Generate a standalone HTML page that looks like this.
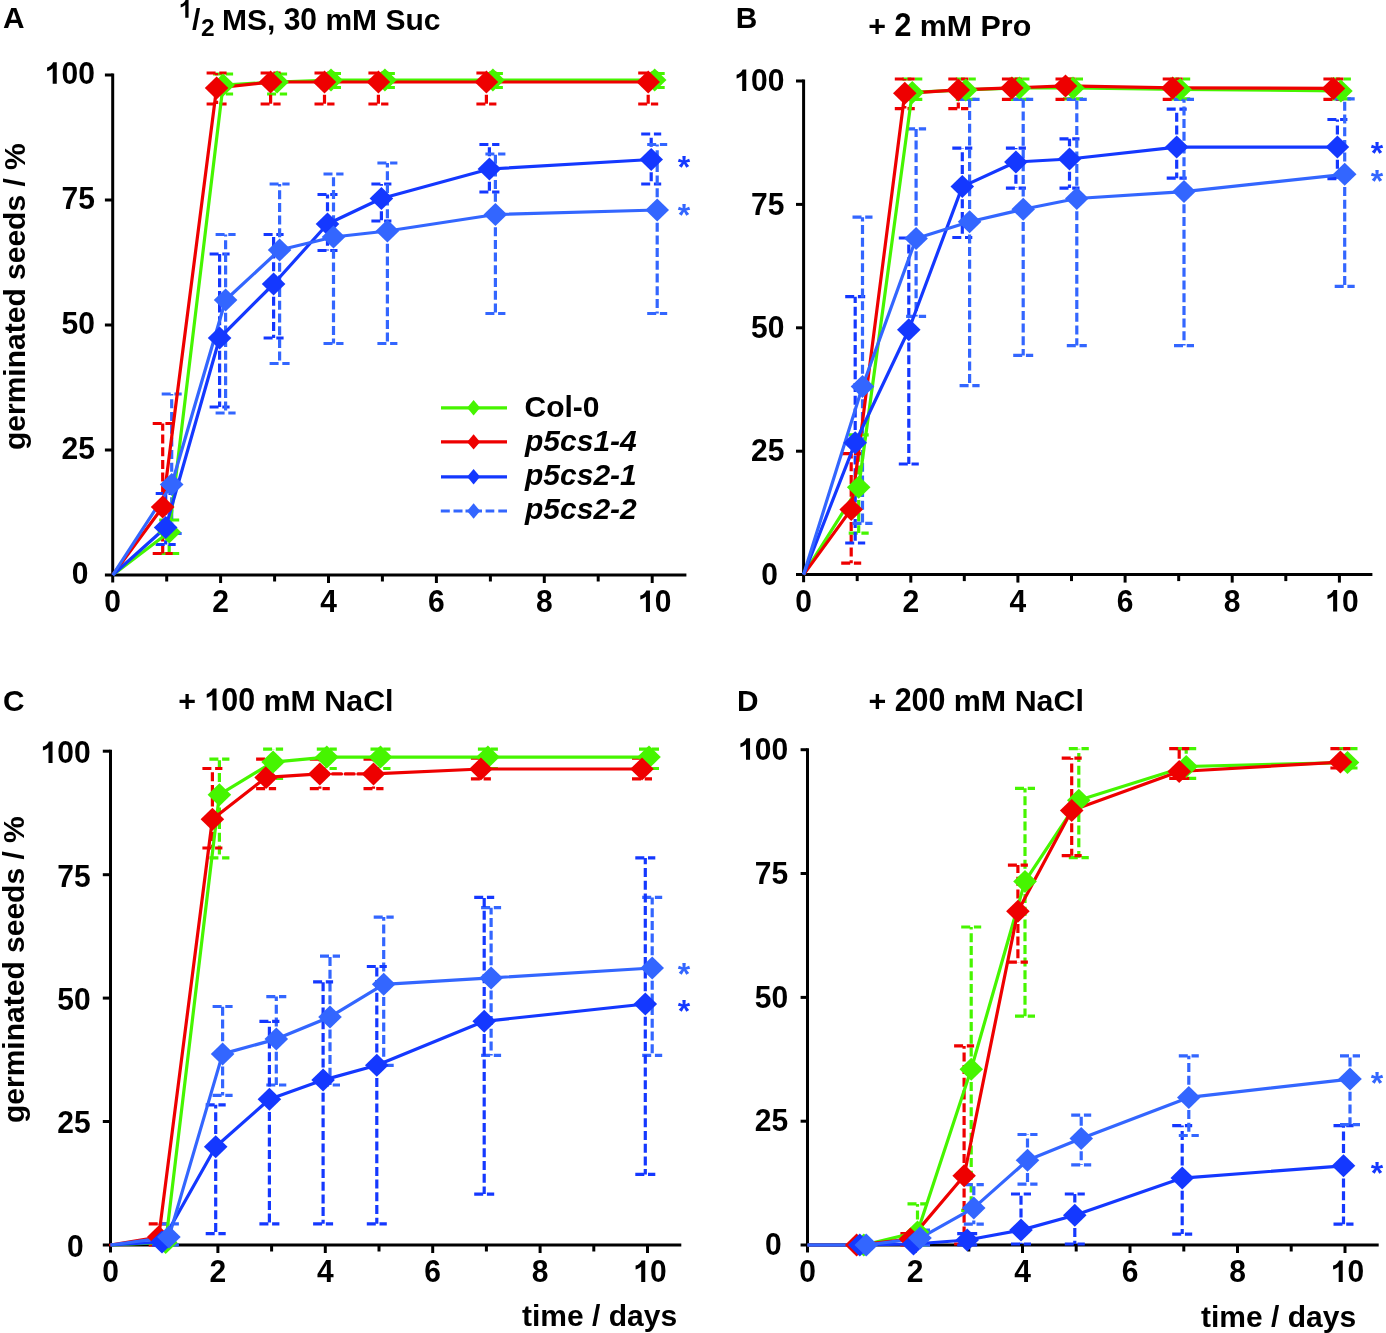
<!DOCTYPE html>
<html><head><meta charset="utf-8"><style>
html,body{margin:0;padding:0;background:#fff;}
svg{display:block;will-change:transform;}
text{font-family:"Liberation Sans", sans-serif;font-weight:bold;}
</style></head><body>
<svg width="1386" height="1333" viewBox="0 0 1386 1333">
<rect width="1386" height="1333" fill="#fff"/>
<g stroke="#000" stroke-width="3" fill="none">
<path d="M104.9 575H686.4"/>
<path d="M112.7 73.5V582.6"/>
<path d="M104.9 450H112.7"/>
<path d="M104.9 325H112.7"/>
<path d="M104.9 200H112.7"/>
<path d="M104.9 75H112.7"/>
<path d="M166.7 575V581.5"/>
<path d="M220.6 575V583"/>
<path d="M274.6 575V581.5"/>
<path d="M328.5 575V583"/>
<path d="M382.4 575V581.5"/>
<path d="M436.4 575V583"/>
<path d="M490.4 575V581.5"/>
<path d="M544.3 575V583"/>
<path d="M598.2 575V581.5"/>
<path d="M652.2 575V583"/>
</g>
<g stroke="#46f500" stroke-width="3.2" fill="none" stroke-dasharray="9 3.7">
<path d="M169.2 532V520M169.2 532V553.5"/>
<path d="M159.2 520H179.2"/>
<path d="M159.2 553.5H179.2"/>
<path d="M223.1 85V74M223.1 85V94"/>
<path d="M213.1 74H233.1"/>
<path d="M213.1 94H233.1"/>
<path d="M277.1 82V74M277.1 82V94"/>
<path d="M267.1 74H287.1"/>
<path d="M267.1 94H287.1"/>
<path d="M331 80V73.5M331 80V87.5"/>
<path d="M321 73.5H341"/>
<path d="M321 87.5H341"/>
<path d="M384.9 80V73.5M384.9 80V87.5"/>
<path d="M374.9 73.5H394.9"/>
<path d="M374.9 87.5H394.9"/>
<path d="M492.9 80V73.5M492.9 80V87.5"/>
<path d="M482.9 73.5H502.9"/>
<path d="M482.9 87.5H502.9"/>
<path d="M654.7 80V73.5M654.7 80V87.5"/>
<path d="M644.7 73.5H664.7"/>
<path d="M644.7 87.5H664.7"/>
</g>
<g stroke="#ee0000" stroke-width="3.2" fill="none" stroke-dasharray="9 3.7">
<path d="M162.7 507V423.5M162.7 507V553.5"/>
<path d="M152.7 423.5H172.7"/>
<path d="M152.7 553.5H172.7"/>
<path d="M216.6 88V73M216.6 88V104"/>
<path d="M206.6 73H226.6"/>
<path d="M206.6 104H226.6"/>
<path d="M270.6 82V73M270.6 82V104"/>
<path d="M260.6 73H280.6"/>
<path d="M260.6 104H280.6"/>
<path d="M324.5 82V73M324.5 82V104"/>
<path d="M314.5 73H334.5"/>
<path d="M314.5 104H334.5"/>
<path d="M378.4 82V73M378.4 82V104"/>
<path d="M368.4 73H388.4"/>
<path d="M368.4 104H388.4"/>
<path d="M486.4 82V73M486.4 82V104"/>
<path d="M476.4 73H496.4"/>
<path d="M476.4 104H496.4"/>
<path d="M648.2 82V73M648.2 82V104"/>
<path d="M638.2 73H658.2"/>
<path d="M638.2 104H658.2"/>
</g>
<g stroke="#1438ff" stroke-width="3.2" fill="none" stroke-dasharray="9 3.7">
<path d="M165.7 527.5V493.5M165.7 527.5V544.5"/>
<path d="M155.7 493.5H175.7"/>
<path d="M155.7 544.5H175.7"/>
<path d="M219.6 338V254M219.6 338V407"/>
<path d="M209.6 254H229.6"/>
<path d="M209.6 407H229.6"/>
<path d="M273.6 284V234.5M273.6 284V338"/>
<path d="M263.6 234.5H283.6"/>
<path d="M263.6 338H283.6"/>
<path d="M327.5 224V194.5M327.5 224V250.5"/>
<path d="M317.5 194.5H337.5"/>
<path d="M317.5 250.5H337.5"/>
<path d="M381.4 198.5V184M381.4 198.5V221"/>
<path d="M371.4 184H391.4"/>
<path d="M371.4 221H391.4"/>
<path d="M489.4 169V144.5M489.4 169V192"/>
<path d="M479.4 144.5H499.4"/>
<path d="M479.4 192H499.4"/>
<path d="M651.2 159.5V134M651.2 159.5V184"/>
<path d="M641.2 134H661.2"/>
<path d="M641.2 184H661.2"/>
</g>
<g stroke="#3366ff" stroke-width="3.2" fill="none" stroke-dasharray="9 3.7">
<path d="M171.7 484.5V394M171.7 484.5V533.5"/>
<path d="M161.7 394H181.7"/>
<path d="M161.7 533.5H181.7"/>
<path d="M225.6 300V234.5M225.6 300V413"/>
<path d="M215.6 234.5H235.6"/>
<path d="M215.6 413H235.6"/>
<path d="M279.6 250V184M279.6 250V363.5"/>
<path d="M269.6 184H289.6"/>
<path d="M269.6 363.5H289.6"/>
<path d="M333.5 237V174M333.5 237V343.5"/>
<path d="M323.5 174H343.5"/>
<path d="M323.5 343.5H343.5"/>
<path d="M387.4 231V163M387.4 231V343.5"/>
<path d="M377.4 163H397.4"/>
<path d="M377.4 343.5H397.4"/>
<path d="M495.4 214.5V154M495.4 214.5V313.5"/>
<path d="M485.4 154H505.4"/>
<path d="M485.4 313.5H505.4"/>
<path d="M657.2 210V144.5M657.2 210V313.5"/>
<path d="M647.2 144.5H667.2"/>
<path d="M647.2 313.5H667.2"/>
</g>
<path d="M112.7 575 L169.2 532 L223.1 85 L277.1 82 L331 80 L384.9 80 L492.9 80 L654.7 80" stroke="#46f500" stroke-width="3.2" fill="none" stroke-linejoin="round"/>
<path d="M112.7 575 L162.7 507 L216.6 88 L270.6 82 L324.5 82 L378.4 82 L486.4 82 L648.2 82" stroke="#ee0000" stroke-width="3.2" fill="none" stroke-linejoin="round"/>
<path d="M112.7 575 L165.7 527.5 L219.6 338 L273.6 284 L327.5 224 L381.4 198.5 L489.4 169 L651.2 159.5" stroke="#1438ff" stroke-width="3.2" fill="none" stroke-linejoin="round"/>
<path d="M112.7 575 L171.7 484.5 L225.6 300 L279.6 250 L333.5 237 L387.4 231 L495.4 214.5 L657.2 210" stroke="#3366ff" stroke-width="3.2" fill="none" stroke-linejoin="round"/>
<path d="M157.3 532L169.2 520.5L181 532L169.2 543.5Z" fill="#46f500"/>
<path d="M211.3 85L223.1 73.5L234.9 85L223.1 96.5Z" fill="#46f500"/>
<path d="M265.2 82L277.1 70.5L288.9 82L277.1 93.5Z" fill="#46f500"/>
<path d="M319.2 80L331 68.5L342.8 80L331 91.5Z" fill="#46f500"/>
<path d="M373.1 80L384.9 68.5L396.8 80L384.9 91.5Z" fill="#46f500"/>
<path d="M481.1 80L492.9 68.5L504.7 80L492.9 91.5Z" fill="#46f500"/>
<path d="M642.9 80L654.7 68.5L666.5 80L654.7 91.5Z" fill="#46f500"/>
<path d="M150.8 507L162.7 495.5L174.5 507L162.7 518.5Z" fill="#ee0000"/>
<path d="M204.8 88L216.6 76.5L228.4 88L216.6 99.5Z" fill="#ee0000"/>
<path d="M258.8 82L270.6 70.5L282.4 82L270.6 93.5Z" fill="#ee0000"/>
<path d="M312.7 82L324.5 70.5L336.3 82L324.5 93.5Z" fill="#ee0000"/>
<path d="M366.6 82L378.4 70.5L390.2 82L378.4 93.5Z" fill="#ee0000"/>
<path d="M474.6 82L486.4 70.5L498.2 82L486.4 93.5Z" fill="#ee0000"/>
<path d="M636.4 82L648.2 70.5L660 82L648.2 93.5Z" fill="#ee0000"/>
<path d="M153.8 527.5L165.7 516L177.5 527.5L165.7 539Z" fill="#1438ff"/>
<path d="M207.8 338L219.6 326.5L231.4 338L219.6 349.5Z" fill="#1438ff"/>
<path d="M261.8 284L273.6 272.5L285.4 284L273.6 295.5Z" fill="#1438ff"/>
<path d="M315.7 224L327.5 212.5L339.3 224L327.5 235.5Z" fill="#1438ff"/>
<path d="M369.6 198.5L381.4 187L393.2 198.5L381.4 210Z" fill="#1438ff"/>
<path d="M477.6 169L489.4 157.5L501.2 169L489.4 180.5Z" fill="#1438ff"/>
<path d="M639.4 159.5L651.2 148L663 159.5L651.2 171Z" fill="#1438ff"/>
<path d="M159.8 484.5L171.7 473L183.5 484.5L171.7 496Z" fill="#3366ff"/>
<path d="M213.8 300L225.6 288.5L237.4 300L225.6 311.5Z" fill="#3366ff"/>
<path d="M267.8 250L279.6 238.5L291.4 250L279.6 261.5Z" fill="#3366ff"/>
<path d="M321.7 237L333.5 225.5L345.3 237L333.5 248.5Z" fill="#3366ff"/>
<path d="M375.6 231L387.4 219.5L399.2 231L387.4 242.5Z" fill="#3366ff"/>
<path d="M483.6 214.5L495.4 203L507.2 214.5L495.4 226Z" fill="#3366ff"/>
<path d="M645.4 210L657.2 198.5L669 210L657.2 221.5Z" fill="#3366ff"/>
<g stroke="#000" stroke-width="3" fill="none">
<path d="M796 574.6H1372.4"/>
<path d="M803.6 79.5V582.2"/>
<path d="M796 451.2H803.6"/>
<path d="M796 327.8H803.6"/>
<path d="M796 204.4H803.6"/>
<path d="M796 81H803.6"/>
<path d="M857.2 574.6V581.1"/>
<path d="M910.8 574.6V582.6"/>
<path d="M964.3 574.6V581.1"/>
<path d="M1017.9 574.6V582.6"/>
<path d="M1071.5 574.6V581.1"/>
<path d="M1125.1 574.6V582.6"/>
<path d="M1178.7 574.6V581.1"/>
<path d="M1232.2 574.6V582.6"/>
<path d="M1285.8 574.6V581.1"/>
<path d="M1339.4 574.6V582.6"/>
</g>
<g stroke="#46f500" stroke-width="3.2" fill="none" stroke-dasharray="9 3.7">
<path d="M858.7 487.2V434.9M858.7 487.2V533.1"/>
<path d="M848.7 434.9H868.7"/>
<path d="M848.7 533.1H868.7"/>
<path d="M912.3 92.4V79M912.3 92.4V99.3"/>
<path d="M902.3 79H922.3"/>
<path d="M902.3 99.3H922.3"/>
<path d="M965.8 89.9V79M965.8 89.9V99.3"/>
<path d="M955.8 79H975.8"/>
<path d="M955.8 99.3H975.8"/>
<path d="M1019.4 87.9V79M1019.4 87.9V99.3"/>
<path d="M1009.4 79H1029.4"/>
<path d="M1009.4 99.3H1029.4"/>
<path d="M1073 87.9V79M1073 87.9V98.8"/>
<path d="M1063 79H1083"/>
<path d="M1063 98.8H1083"/>
<path d="M1180.2 89.4V79M1180.2 89.4V98.8"/>
<path d="M1170.2 79H1190.2"/>
<path d="M1170.2 98.8H1190.2"/>
<path d="M1340.9 90.9V79M1340.9 90.9V98.8"/>
<path d="M1330.9 79H1350.9"/>
<path d="M1330.9 98.8H1350.9"/>
</g>
<g stroke="#ee0000" stroke-width="3.2" fill="none" stroke-dasharray="9 3.7">
<path d="M851.2 509.4V453.7M851.2 509.4V563.2"/>
<path d="M841.2 453.7H861.2"/>
<path d="M841.2 563.2H861.2"/>
<path d="M904.8 93.3V79M904.8 93.3V108.6"/>
<path d="M894.8 79H914.8"/>
<path d="M894.8 108.6H914.8"/>
<path d="M958.3 89.9V79M958.3 89.9V108.6"/>
<path d="M948.3 79H968.3"/>
<path d="M948.3 108.6H968.3"/>
<path d="M1011.9 87.9V79M1011.9 87.9V99.3"/>
<path d="M1001.9 79H1021.9"/>
<path d="M1001.9 99.3H1021.9"/>
<path d="M1065.5 85.9V79M1065.5 85.9V99.3"/>
<path d="M1055.5 79H1075.5"/>
<path d="M1055.5 99.3H1075.5"/>
<path d="M1172.7 87.9V79M1172.7 87.9V99.3"/>
<path d="M1162.7 79H1182.7"/>
<path d="M1162.7 99.3H1182.7"/>
<path d="M1333.4 88.4V79M1333.4 88.4V99.3"/>
<path d="M1323.4 79H1343.4"/>
<path d="M1323.4 99.3H1343.4"/>
</g>
<g stroke="#1438ff" stroke-width="3.2" fill="none" stroke-dasharray="9 3.7">
<path d="M855.2 442.8V296.7M855.2 442.8V543"/>
<path d="M845.2 296.7H865.2"/>
<path d="M845.2 543H865.2"/>
<path d="M908.8 329.8V238M908.8 329.8V464"/>
<path d="M898.8 238H918.8"/>
<path d="M898.8 464H918.8"/>
<path d="M962.3 186.6V148.1M962.3 186.6V237.5"/>
<path d="M952.3 148.1H972.3"/>
<path d="M952.3 237.5H972.3"/>
<path d="M1015.9 162V148.1M1015.9 162V188.1"/>
<path d="M1005.9 148.1H1025.9"/>
<path d="M1005.9 188.1H1025.9"/>
<path d="M1069.5 159V138.8M1069.5 159V188.1"/>
<path d="M1059.5 138.8H1079.5"/>
<path d="M1059.5 188.1H1079.5"/>
<path d="M1176.7 147.1V109.1M1176.7 147.1V178.2"/>
<path d="M1166.7 109.1H1186.7"/>
<path d="M1166.7 178.2H1186.7"/>
<path d="M1337.4 147.1V119.5M1337.4 147.1V178.7"/>
<path d="M1327.4 119.5H1347.4"/>
<path d="M1327.4 178.7H1347.4"/>
</g>
<g stroke="#3366ff" stroke-width="3.2" fill="none" stroke-dasharray="9 3.7">
<path d="M862.5 386.5V217.2M862.5 386.5V523.3"/>
<path d="M852.5 217.2H872.5"/>
<path d="M852.5 523.3H872.5"/>
<path d="M916.1 238.5V128.9M916.1 238.5V316.4"/>
<path d="M906.1 128.9H926.1"/>
<path d="M906.1 316.4H926.1"/>
<path d="M969.6 221.7V99.3M969.6 221.7V385.6"/>
<path d="M959.6 99.3H979.6"/>
<path d="M959.6 385.6H979.6"/>
<path d="M1023.2 209.3V99.3M1023.2 209.3V355.4"/>
<path d="M1013.2 99.3H1033.2"/>
<path d="M1013.2 355.4H1033.2"/>
<path d="M1076.8 198.5V99.3M1076.8 198.5V345.6"/>
<path d="M1066.8 99.3H1086.8"/>
<path d="M1066.8 345.6H1086.8"/>
<path d="M1184 191.6V99.3M1184 191.6V345.6"/>
<path d="M1174 99.3H1194"/>
<path d="M1174 345.6H1194"/>
<path d="M1344.7 174.3V98.8M1344.7 174.3V286.3"/>
<path d="M1334.7 98.8H1354.7"/>
<path d="M1334.7 286.3H1354.7"/>
</g>
<path d="M803.6 574.6 L858.7 487.2 L912.3 92.4 L965.8 89.9 L1019.4 87.9 L1073 87.9 L1180.2 89.4 L1340.9 90.9" stroke="#46f500" stroke-width="3.2" fill="none" stroke-linejoin="round"/>
<path d="M803.6 574.6 L851.2 509.4 L904.8 93.3 L958.3 89.9 L1011.9 87.9 L1065.5 85.9 L1172.7 87.9 L1333.4 88.4" stroke="#ee0000" stroke-width="3.2" fill="none" stroke-linejoin="round"/>
<path d="M803.6 574.6 L855.2 442.8 L908.8 329.8 L962.3 186.6 L1015.9 162 L1069.5 159 L1176.7 147.1 L1337.4 147.1" stroke="#1438ff" stroke-width="3.2" fill="none" stroke-linejoin="round"/>
<path d="M803.6 574.6 L862.5 386.5 L916.1 238.5 L969.6 221.7 L1023.2 209.3 L1076.8 198.5 L1184 191.6 L1344.7 174.3" stroke="#3366ff" stroke-width="3.2" fill="none" stroke-linejoin="round"/>
<path d="M846.9 487.2L858.7 475.7L870.5 487.2L858.7 498.7Z" fill="#46f500"/>
<path d="M900.5 92.4L912.3 80.9L924.1 92.4L912.3 103.9Z" fill="#46f500"/>
<path d="M954 89.9L965.8 78.4L977.6 89.9L965.8 101.4Z" fill="#46f500"/>
<path d="M1007.6 87.9L1019.4 76.4L1031.2 87.9L1019.4 99.4Z" fill="#46f500"/>
<path d="M1061.2 87.9L1073 76.4L1084.8 87.9L1073 99.4Z" fill="#46f500"/>
<path d="M1168.4 89.4L1180.2 77.9L1192 89.4L1180.2 100.9Z" fill="#46f500"/>
<path d="M1329.1 90.9L1340.9 79.4L1352.7 90.9L1340.9 102.4Z" fill="#46f500"/>
<path d="M839.4 509.4L851.2 497.9L863 509.4L851.2 520.9Z" fill="#ee0000"/>
<path d="M893 93.3L904.8 81.8L916.6 93.3L904.8 104.8Z" fill="#ee0000"/>
<path d="M946.5 89.9L958.3 78.4L970.1 89.9L958.3 101.4Z" fill="#ee0000"/>
<path d="M1000.1 87.9L1011.9 76.4L1023.7 87.9L1011.9 99.4Z" fill="#ee0000"/>
<path d="M1053.7 85.9L1065.5 74.4L1077.3 85.9L1065.5 97.4Z" fill="#ee0000"/>
<path d="M1160.9 87.9L1172.7 76.4L1184.5 87.9L1172.7 99.4Z" fill="#ee0000"/>
<path d="M1321.6 88.4L1333.4 76.9L1345.2 88.4L1333.4 99.9Z" fill="#ee0000"/>
<path d="M843.4 442.8L855.2 431.3L867 442.8L855.2 454.3Z" fill="#1438ff"/>
<path d="M897 329.8L908.8 318.3L920.6 329.8L908.8 341.3Z" fill="#1438ff"/>
<path d="M950.5 186.6L962.3 175.1L974.1 186.6L962.3 198.1Z" fill="#1438ff"/>
<path d="M1004.1 162L1015.9 150.5L1027.7 162L1015.9 173.5Z" fill="#1438ff"/>
<path d="M1057.7 159L1069.5 147.5L1081.3 159L1069.5 170.5Z" fill="#1438ff"/>
<path d="M1164.9 147.1L1176.7 135.6L1188.5 147.1L1176.7 158.6Z" fill="#1438ff"/>
<path d="M1325.6 147.1L1337.4 135.6L1349.2 147.1L1337.4 158.6Z" fill="#1438ff"/>
<path d="M850.7 386.5L862.5 375L874.3 386.5L862.5 398Z" fill="#3366ff"/>
<path d="M904.3 238.5L916.1 227L927.9 238.5L916.1 250Z" fill="#3366ff"/>
<path d="M957.8 221.7L969.6 210.2L981.4 221.7L969.6 233.2Z" fill="#3366ff"/>
<path d="M1011.4 209.3L1023.2 197.8L1035 209.3L1023.2 220.8Z" fill="#3366ff"/>
<path d="M1065 198.5L1076.8 187L1088.6 198.5L1076.8 210Z" fill="#3366ff"/>
<path d="M1172.2 191.6L1184 180.1L1195.8 191.6L1184 203.1Z" fill="#3366ff"/>
<path d="M1332.9 174.3L1344.7 162.8L1356.5 174.3L1344.7 185.8Z" fill="#3366ff"/>
<g stroke="#000" stroke-width="3" fill="none">
<path d="M102.8 1245H681.3"/>
<path d="M110.5 749.7V1252.6"/>
<path d="M102.8 1121.5H110.5"/>
<path d="M102.8 998.1H110.5"/>
<path d="M102.8 874.7H110.5"/>
<path d="M102.8 751.2H110.5"/>
<path d="M164.2 1245V1251.5"/>
<path d="M217.9 1245V1253"/>
<path d="M271.6 1245V1251.5"/>
<path d="M325.3 1245V1253"/>
<path d="M379 1245V1251.5"/>
<path d="M432.7 1245V1253"/>
<path d="M486.4 1245V1251.5"/>
<path d="M540.1 1245V1253"/>
<path d="M593.8 1245V1251.5"/>
<path d="M647.5 1245V1253"/>
</g>
<g stroke="#46f500" stroke-width="3.2" fill="none" stroke-dasharray="9 3.7">
<path d="M165.7 1242.5V1235.1M165.7 1242.5V1245"/>
<path d="M155.7 1235.1H175.7"/>
<path d="M155.7 1245H175.7"/>
<path d="M219.4 794.7V759.1M219.4 794.7V857.9"/>
<path d="M209.4 759.1H229.4"/>
<path d="M209.4 857.9H229.4"/>
<path d="M273.1 762.1V749.2M273.1 762.1V778.4"/>
<path d="M263.1 749.2H283.1"/>
<path d="M263.1 778.4H283.1"/>
<path d="M326.8 757.1V749.2M326.8 757.1V768.5"/>
<path d="M316.8 749.2H336.8"/>
<path d="M316.8 768.5H336.8"/>
<path d="M380.5 757.1V749.2M380.5 757.1V768.5"/>
<path d="M370.5 749.2H390.5"/>
<path d="M370.5 768.5H390.5"/>
<path d="M487.9 757.1V749.2M487.9 757.1V768.5"/>
<path d="M477.9 749.2H497.9"/>
<path d="M477.9 768.5H497.9"/>
<path d="M649 757.1V749.2M649 757.1V768.5"/>
<path d="M639 749.2H659"/>
<path d="M639 768.5H659"/>
</g>
<g stroke="#ee0000" stroke-width="3.2" fill="none" stroke-dasharray="9 3.7">
<path d="M158.7 1237.1V1223.8M158.7 1237.1V1245"/>
<path d="M148.7 1223.8H168.7"/>
<path d="M148.7 1245H168.7"/>
<path d="M212.4 819.3V768.5M212.4 819.3V848"/>
<path d="M202.4 768.5H222.4"/>
<path d="M202.4 848H222.4"/>
<path d="M266.1 777.4V759.1M266.1 777.4V788.7"/>
<path d="M256.1 759.1H276.1"/>
<path d="M256.1 788.7H276.1"/>
<path d="M319.8 773.9V759.1M319.8 773.9V788.7"/>
<path d="M309.8 759.1H329.8"/>
<path d="M309.8 788.7H329.8"/>
<path d="M373.5 773.9V759.1M373.5 773.9V788.7"/>
<path d="M363.5 759.1H383.5"/>
<path d="M363.5 788.7H383.5"/>
<path d="M480.9 769V758.1M480.9 769V778.9"/>
<path d="M470.9 758.1H490.9"/>
<path d="M470.9 778.9H490.9"/>
<path d="M642 769V758.1M642 769V778.9"/>
<path d="M632 758.1H652"/>
<path d="M632 778.9H652"/>
</g>
<g stroke="#3366ff" stroke-width="3.2" fill="none" stroke-dasharray="9 3.7">
<path d="M168.9 1237.1V1223.8M168.9 1237.1V1245"/>
<path d="M158.9 1223.8H178.9"/>
<path d="M158.9 1245H178.9"/>
<path d="M222.6 1053.9V1006.5M222.6 1053.9V1095.4"/>
<path d="M212.6 1006.5H232.6"/>
<path d="M212.6 1095.4H232.6"/>
<path d="M276.3 1039.1V996.6M276.3 1039.1V1085"/>
<path d="M266.3 996.6H286.3"/>
<path d="M266.3 1085H286.3"/>
<path d="M330 1016.9V956.1M330 1016.9V1085"/>
<path d="M320 956.1H340"/>
<path d="M320 1085H340"/>
<path d="M383.7 984.3V917.1M383.7 984.3V1065.3"/>
<path d="M373.7 917.1H393.7"/>
<path d="M373.7 1065.3H393.7"/>
<path d="M491.1 977.9V907.7M491.1 977.9V1055.4"/>
<path d="M481.1 907.7H501.1"/>
<path d="M481.1 1055.4H501.1"/>
<path d="M652.2 968V897.4M652.2 968V1055.4"/>
<path d="M642.2 897.4H662.2"/>
<path d="M642.2 1055.4H662.2"/>
</g>
<g stroke="#1438ff" stroke-width="3.2" fill="none" stroke-dasharray="9 3.7">
<path d="M162 1242V1237.6M162 1242V1245"/>
<path d="M152 1237.6H172"/>
<path d="M152 1245H172"/>
<path d="M215.7 1146.7V1104.8M215.7 1146.7V1233.6"/>
<path d="M205.7 1104.8H225.7"/>
<path d="M205.7 1233.6H225.7"/>
<path d="M269.4 1099.3V1021.3M269.4 1099.3V1223.8"/>
<path d="M259.4 1021.3H279.4"/>
<path d="M259.4 1223.8H279.4"/>
<path d="M323.1 1080.1V981.8M323.1 1080.1V1223.8"/>
<path d="M313.1 981.8H333.1"/>
<path d="M313.1 1223.8H333.1"/>
<path d="M376.8 1065.3V966.5M376.8 1065.3V1223.8"/>
<path d="M366.8 966.5H386.8"/>
<path d="M366.8 1223.8H386.8"/>
<path d="M484.2 1021.3V897.4M484.2 1021.3V1194.1"/>
<path d="M474.2 897.4H494.2"/>
<path d="M474.2 1194.1H494.2"/>
<path d="M645.3 1004V857.9M645.3 1004V1174.4"/>
<path d="M635.3 857.9H655.3"/>
<path d="M635.3 1174.4H655.3"/>
</g>
<path d="M110.5 1245 L165.7 1242.5 L219.4 794.7 L273.1 762.1 L326.8 757.1 L380.5 757.1 L487.9 757.1 L649 757.1" stroke="#46f500" stroke-width="3.2" fill="none" stroke-linejoin="round"/>
<path d="M110.5 1245L158.7 1237.1" stroke="#ee0000" stroke-width="3.2" fill="none" stroke-linecap="round"/>
<path d="M158.7 1237.1L212.4 819.3" stroke="#ee0000" stroke-width="3.2" fill="none" stroke-linecap="round"/>
<path d="M212.4 819.3L266.1 777.4" stroke="#ee0000" stroke-width="3.2" fill="none" stroke-linecap="round"/>
<path d="M266.1 777.4L319.8 773.9" stroke="#ee0000" stroke-width="3.2" fill="none" stroke-linecap="round"/>
<path d="M319.8 773.9L373.5 773.9" stroke="#ee0000" stroke-width="3.2" fill="none" stroke-linecap="round" stroke-dasharray="9 3.7"/>
<path d="M373.5 773.9L480.9 769" stroke="#ee0000" stroke-width="3.2" fill="none" stroke-linecap="round"/>
<path d="M480.9 769L642 769" stroke="#ee0000" stroke-width="3.2" fill="none" stroke-linecap="round"/>
<path d="M110.5 1245 L162 1242 L215.7 1146.7 L269.4 1099.3 L323.1 1080.1 L376.8 1065.3 L484.2 1021.3 L645.3 1004" stroke="#1438ff" stroke-width="3.2" fill="none" stroke-linejoin="round"/>
<path d="M110.5 1245 L168.9 1237.1 L222.6 1053.9 L276.3 1039.1 L330 1016.9 L383.7 984.3 L491.1 977.9 L652.2 968" stroke="#3366ff" stroke-width="3.2" fill="none" stroke-linejoin="round"/>
<path d="M146.9 1237.1L158.7 1225.6L170.5 1237.1L158.7 1248.6Z" fill="#ee0000"/>
<path d="M200.6 819.3L212.4 807.8L224.2 819.3L212.4 830.8Z" fill="#ee0000"/>
<path d="M254.3 777.4L266.1 765.9L277.9 777.4L266.1 788.9Z" fill="#ee0000"/>
<path d="M308 773.9L319.8 762.4L331.6 773.9L319.8 785.4Z" fill="#ee0000"/>
<path d="M361.7 773.9L373.5 762.4L385.3 773.9L373.5 785.4Z" fill="#ee0000"/>
<path d="M153.9 1242.5L165.7 1231L177.5 1242.5L165.7 1254Z" fill="#46f500"/>
<path d="M207.6 794.7L219.4 783.2L231.2 794.7L219.4 806.2Z" fill="#46f500"/>
<path d="M261.3 762.1L273.1 750.6L284.9 762.1L273.1 773.6Z" fill="#46f500"/>
<path d="M315 757.1L326.8 745.6L338.6 757.1L326.8 768.6Z" fill="#46f500"/>
<path d="M368.7 757.1L380.5 745.6L392.3 757.1L380.5 768.6Z" fill="#46f500"/>
<path d="M476.1 757.1L487.9 745.6L499.7 757.1L487.9 768.6Z" fill="#46f500"/>
<path d="M637.2 757.1L649 745.6L660.8 757.1L649 768.6Z" fill="#46f500"/>
<path d="M150.2 1242L162 1230.5L173.8 1242L162 1253.5Z" fill="#1438ff"/>
<path d="M203.9 1146.7L215.7 1135.2L227.5 1146.7L215.7 1158.2Z" fill="#1438ff"/>
<path d="M257.6 1099.3L269.4 1087.8L281.2 1099.3L269.4 1110.8Z" fill="#1438ff"/>
<path d="M311.3 1080.1L323.1 1068.6L334.9 1080.1L323.1 1091.6Z" fill="#1438ff"/>
<path d="M365 1065.3L376.8 1053.8L388.6 1065.3L376.8 1076.8Z" fill="#1438ff"/>
<path d="M472.4 1021.3L484.2 1009.8L496 1021.3L484.2 1032.8Z" fill="#1438ff"/>
<path d="M633.5 1004L645.3 992.5L657.1 1004L645.3 1015.5Z" fill="#1438ff"/>
<path d="M157.1 1237.1L168.9 1225.6L180.7 1237.1L168.9 1248.6Z" fill="#3366ff"/>
<path d="M210.8 1053.9L222.6 1042.4L234.4 1053.9L222.6 1065.4Z" fill="#3366ff"/>
<path d="M264.5 1039.1L276.3 1027.6L288.1 1039.1L276.3 1050.6Z" fill="#3366ff"/>
<path d="M318.2 1016.9L330 1005.4L341.8 1016.9L330 1028.4Z" fill="#3366ff"/>
<path d="M371.9 984.3L383.7 972.8L395.5 984.3L383.7 995.8Z" fill="#3366ff"/>
<path d="M479.3 977.9L491.1 966.4L502.9 977.9L491.1 989.4Z" fill="#3366ff"/>
<path d="M640.4 968L652.2 956.5L664 968L652.2 979.5Z" fill="#3366ff"/>
<path d="M469.1 769L480.9 757.5L492.7 769L480.9 780.5Z" fill="#ee0000"/>
<path d="M630.2 769L642 757.5L653.8 769L642 780.5Z" fill="#ee0000"/>
<g stroke="#000" stroke-width="3" fill="none">
<path d="M800.6 1245H1378.7"/>
<path d="M807.5 748.2V1252.6"/>
<path d="M800.6 1121.2H807.5"/>
<path d="M800.6 997.4H807.5"/>
<path d="M800.6 873.5H807.5"/>
<path d="M800.6 749.7H807.5"/>
<path d="M861.2 1245V1251.5"/>
<path d="M915 1245V1253"/>
<path d="M968.8 1245V1251.5"/>
<path d="M1022.5 1245V1253"/>
<path d="M1076.2 1245V1251.5"/>
<path d="M1130 1245V1253"/>
<path d="M1183.8 1245V1251.5"/>
<path d="M1237.5 1245V1253"/>
<path d="M1291.2 1245V1251.5"/>
<path d="M1345 1245V1253"/>
</g>
<g stroke="#46f500" stroke-width="3.2" fill="none" stroke-dasharray="9 3.7">
<path d="M917.5 1232.1V1203.9M917.5 1232.1V1245"/>
<path d="M907.5 1203.9H927.5"/>
<path d="M907.5 1245H927.5"/>
<path d="M971.2 1069.2V927M971.2 1069.2V1210.3"/>
<path d="M961.2 927H981.2"/>
<path d="M961.2 1210.3H981.2"/>
<path d="M1025 881.4V788.3M1025 881.4V1016.2"/>
<path d="M1015 788.3H1035"/>
<path d="M1015 1016.2H1035"/>
<path d="M1078.8 800.2V748.7M1078.8 800.2V857.7"/>
<path d="M1068.8 748.7H1088.8"/>
<path d="M1068.8 857.7H1088.8"/>
<path d="M1186.2 766.5V748.7M1186.2 766.5V778.4"/>
<path d="M1176.2 748.7H1196.2"/>
<path d="M1176.2 778.4H1196.2"/>
<path d="M1347.5 762.6V748.7M1347.5 762.6V768"/>
<path d="M1337.5 748.7H1357.5"/>
<path d="M1337.5 768H1357.5"/>
</g>
<g stroke="#ee0000" stroke-width="3.2" fill="none" stroke-dasharray="9 3.7">
<path d="M910.4 1239.1V1233.6M910.4 1239.1V1245"/>
<path d="M900.4 1233.6H920.4"/>
<path d="M900.4 1245H920.4"/>
<path d="M964.1 1175.7V1045.9M964.1 1175.7V1244"/>
<path d="M954.1 1045.9H974.1"/>
<path d="M954.1 1244H974.1"/>
<path d="M1017.9 911.2V865.1M1017.9 911.2V962.2"/>
<path d="M1007.9 865.1H1027.9"/>
<path d="M1007.9 962.2H1027.9"/>
<path d="M1071.7 810.6V758.1M1071.7 810.6V855.7"/>
<path d="M1061.7 758.1H1081.7"/>
<path d="M1061.7 855.7H1081.7"/>
<path d="M1179.2 771.5V748.7M1179.2 771.5V778.4"/>
<path d="M1169.2 748.7H1189.2"/>
<path d="M1169.2 778.4H1189.2"/>
<path d="M1340.4 762.1V748.7M1340.4 762.1V768"/>
<path d="M1330.4 748.7H1350.4"/>
<path d="M1330.4 768H1350.4"/>
</g>
<g stroke="#1438ff" stroke-width="3.2" fill="none" stroke-dasharray="9 3.7">
<path d="M967.2 1240V1233.6M967.2 1240V1245"/>
<path d="M957.2 1233.6H977.2"/>
<path d="M957.2 1245H977.2"/>
<path d="M1021 1230.1V1194M1021 1230.1V1244"/>
<path d="M1011 1194H1031"/>
<path d="M1011 1244H1031"/>
<path d="M1074.8 1215.3V1194M1074.8 1215.3V1244"/>
<path d="M1064.8 1194H1084.8"/>
<path d="M1064.8 1244H1084.8"/>
<path d="M1182.2 1178.1V1125.6M1182.2 1178.1V1234.1"/>
<path d="M1172.2 1125.6H1192.2"/>
<path d="M1172.2 1234.1H1192.2"/>
<path d="M1343.5 1165.8V1125.6M1343.5 1165.8V1224.2"/>
<path d="M1333.5 1125.6H1353.5"/>
<path d="M1333.5 1224.2H1353.5"/>
</g>
<g stroke="#3366ff" stroke-width="3.2" fill="none" stroke-dasharray="9 3.7">
<path d="M920 1238.1V1230.1M920 1238.1V1245"/>
<path d="M910 1230.1H930"/>
<path d="M910 1245H930"/>
<path d="M973.8 1207.9V1184.6M973.8 1207.9V1224.2"/>
<path d="M963.8 1184.6H983.8"/>
<path d="M963.8 1224.2H983.8"/>
<path d="M1027.5 1160.3V1134.5M1027.5 1160.3V1184.1"/>
<path d="M1017.5 1134.5H1037.5"/>
<path d="M1017.5 1184.1H1037.5"/>
<path d="M1081.2 1138.5V1115.2M1081.2 1138.5V1164.8"/>
<path d="M1071.2 1115.2H1091.2"/>
<path d="M1071.2 1164.8H1091.2"/>
<path d="M1188.8 1097.4V1055.8M1188.8 1097.4V1135.5"/>
<path d="M1178.8 1055.8H1198.8"/>
<path d="M1178.8 1135.5H1198.8"/>
<path d="M1350 1079.1V1055.8M1350 1079.1V1124.6"/>
<path d="M1340 1055.8H1360"/>
<path d="M1340 1124.6H1360"/>
</g>
<path d="M807.5 1245 L863.8 1245 L917.5 1232.1 L971.2 1069.2 L1025 881.4 L1078.8 800.2 L1186.2 766.5 L1347.5 762.6" stroke="#46f500" stroke-width="3.2" fill="none" stroke-linejoin="round"/>
<path d="M807.5 1245 L856.6 1245 L910.4 1239.1 L964.1 1175.7 L1017.9 911.2 L1071.7 810.6 L1179.2 771.5 L1340.4 762.1" stroke="#ee0000" stroke-width="3.2" fill="none" stroke-linejoin="round"/>
<path d="M807.5 1245 L859.8 1245 L913.5 1244 L967.2 1240 L1021 1230.1 L1074.8 1215.3 L1182.2 1178.1 L1343.5 1165.8" stroke="#1438ff" stroke-width="3.2" fill="none" stroke-linejoin="round"/>
<path d="M807.5 1245 L866.2 1245 L920 1238.1 L973.8 1207.9 L1027.5 1160.3 L1081.2 1138.5 L1188.8 1097.4 L1350 1079.1" stroke="#3366ff" stroke-width="3.2" fill="none" stroke-linejoin="round"/>
<path d="M852 1245L863.8 1233.5L875.5 1245L863.8 1256.5Z" fill="#46f500"/>
<path d="M905.7 1232.1L917.5 1220.6L929.3 1232.1L917.5 1243.6Z" fill="#46f500"/>
<path d="M959.5 1069.2L971.2 1057.7L983 1069.2L971.2 1080.7Z" fill="#46f500"/>
<path d="M1013.2 881.4L1025 869.9L1036.8 881.4L1025 892.9Z" fill="#46f500"/>
<path d="M1067 800.2L1078.8 788.7L1090.5 800.2L1078.8 811.7Z" fill="#46f500"/>
<path d="M1174.5 766.5L1186.2 755L1198 766.5L1186.2 778Z" fill="#46f500"/>
<path d="M1335.7 762.6L1347.5 751.1L1359.3 762.6L1347.5 774.1Z" fill="#46f500"/>
<path d="M844.9 1245L856.6 1233.5L868.4 1245L856.6 1256.5Z" fill="#ee0000"/>
<path d="M898.6 1239.1L910.4 1227.6L922.2 1239.1L910.4 1250.6Z" fill="#ee0000"/>
<path d="M952.4 1175.7L964.1 1164.2L975.9 1175.7L964.1 1187.2Z" fill="#ee0000"/>
<path d="M1006.1 911.2L1017.9 899.7L1029.7 911.2L1017.9 922.7Z" fill="#ee0000"/>
<path d="M1059.9 810.6L1071.7 799.1L1083.5 810.6L1071.7 822.1Z" fill="#ee0000"/>
<path d="M1167.4 771.5L1179.2 760L1191 771.5L1179.2 783Z" fill="#ee0000"/>
<path d="M1328.6 762.1L1340.4 750.6L1352.2 762.1L1340.4 773.6Z" fill="#ee0000"/>
<path d="M848 1245L859.8 1233.5L871.5 1245L859.8 1256.5Z" fill="#1438ff"/>
<path d="M901.7 1244L913.5 1232.5L925.3 1244L913.5 1255.5Z" fill="#1438ff"/>
<path d="M955.5 1240L967.2 1228.5L979 1240L967.2 1251.5Z" fill="#1438ff"/>
<path d="M1009.2 1230.1L1021 1218.6L1032.8 1230.1L1021 1241.6Z" fill="#1438ff"/>
<path d="M1063 1215.3L1074.8 1203.8L1086.5 1215.3L1074.8 1226.8Z" fill="#1438ff"/>
<path d="M1170.5 1178.1L1182.2 1166.6L1194 1178.1L1182.2 1189.6Z" fill="#1438ff"/>
<path d="M1331.7 1165.8L1343.5 1154.3L1355.3 1165.8L1343.5 1177.3Z" fill="#1438ff"/>
<path d="M854.5 1245L866.2 1233.5L878 1245L866.2 1256.5Z" fill="#3366ff"/>
<path d="M908.2 1238.1L920 1226.6L931.8 1238.1L920 1249.6Z" fill="#3366ff"/>
<path d="M962 1207.9L973.8 1196.4L985.5 1207.9L973.8 1219.4Z" fill="#3366ff"/>
<path d="M1015.7 1160.3L1027.5 1148.8L1039.3 1160.3L1027.5 1171.8Z" fill="#3366ff"/>
<path d="M1069.5 1138.5L1081.2 1127L1093 1138.5L1081.2 1150Z" fill="#3366ff"/>
<path d="M1177 1097.4L1188.8 1085.9L1200.5 1097.4L1188.8 1108.9Z" fill="#3366ff"/>
<path d="M1338.2 1079.1L1350 1067.6L1361.8 1079.1L1350 1090.6Z" fill="#3366ff"/>
<g font-size="30" fill="#000">
<text transform="translate(88.4 583.8) scale(1 1.07)" text-anchor="end">0</text>
<text transform="translate(94.9 458.8) scale(1 1.07)" text-anchor="end">25</text>
<text transform="translate(94.9 333.8) scale(1 1.07)" text-anchor="end">50</text>
<text transform="translate(94.9 208.8) scale(1 1.07)" text-anchor="end">75</text>
<text transform="translate(94.9 83.8) scale(1 1.07)" text-anchor="end">00</text>
<path transform="translate(44.8 83.8)" d="M11.95 0V-21.6H8.3C7.2 -19.2 5.3 -17 2.3 -16.4V-12.6C4.6 -13.1 6.3 -14.1 7.9 -15.5V0Z"/>
<text transform="translate(112.7 612) scale(1 1.07)" text-anchor="middle">0</text>
<text transform="translate(220.6 612) scale(1 1.07)" text-anchor="middle">2</text>
<text transform="translate(328.5 612) scale(1 1.07)" text-anchor="middle">4</text>
<text transform="translate(436.4 612) scale(1 1.07)" text-anchor="middle">6</text>
<text transform="translate(544.3 612) scale(1 1.07)" text-anchor="middle">8</text>
<text transform="translate(654.7 612) scale(1 1.07)">0</text>
<path transform="translate(638 612)" d="M11.95 0V-21.6H8.3C7.2 -19.2 5.3 -17 2.3 -16.4V-12.6C4.6 -13.1 6.3 -14.1 7.9 -15.5V0Z"/>
<text transform="translate(777.9 584.7) scale(1 1.07)" text-anchor="end">0</text>
<text transform="translate(784.4 461.3) scale(1 1.07)" text-anchor="end">25</text>
<text transform="translate(784.4 337.9) scale(1 1.07)" text-anchor="end">50</text>
<text transform="translate(784.4 214.5) scale(1 1.07)" text-anchor="end">75</text>
<text transform="translate(784.4 91.1) scale(1 1.07)" text-anchor="end">00</text>
<path transform="translate(734.3 91.1)" d="M11.95 0V-21.6H8.3C7.2 -19.2 5.3 -17 2.3 -16.4V-12.6C4.6 -13.1 6.3 -14.1 7.9 -15.5V0Z"/>
<text transform="translate(803.6 611.6) scale(1 1.07)" text-anchor="middle">0</text>
<text transform="translate(910.8 611.6) scale(1 1.07)" text-anchor="middle">2</text>
<text transform="translate(1017.9 611.6) scale(1 1.07)" text-anchor="middle">4</text>
<text transform="translate(1125.1 611.6) scale(1 1.07)" text-anchor="middle">6</text>
<text transform="translate(1232.2 611.6) scale(1 1.07)" text-anchor="middle">8</text>
<text transform="translate(1341.9 611.6) scale(1 1.07)">0</text>
<path transform="translate(1325.2 611.6)" d="M11.95 0V-21.6H8.3C7.2 -19.2 5.3 -17 2.3 -16.4V-12.6C4.6 -13.1 6.3 -14.1 7.9 -15.5V0Z"/>
<text transform="translate(83.7 1256.8) scale(1 1.07)" text-anchor="end">0</text>
<text transform="translate(90.7 1133.3) scale(1 1.07)" text-anchor="end">25</text>
<text transform="translate(90.7 1009.9) scale(1 1.07)" text-anchor="end">50</text>
<text transform="translate(90.7 886.5) scale(1 1.07)" text-anchor="end">75</text>
<text transform="translate(90.7 763) scale(1 1.07)" text-anchor="end">00</text>
<path transform="translate(40.6 763)" d="M11.95 0V-21.6H8.3C7.2 -19.2 5.3 -17 2.3 -16.4V-12.6C4.6 -13.1 6.3 -14.1 7.9 -15.5V0Z"/>
<text transform="translate(110.5 1282) scale(1 1.07)" text-anchor="middle">0</text>
<text transform="translate(217.9 1282) scale(1 1.07)" text-anchor="middle">2</text>
<text transform="translate(325.3 1282) scale(1 1.07)" text-anchor="middle">4</text>
<text transform="translate(432.7 1282) scale(1 1.07)" text-anchor="middle">6</text>
<text transform="translate(540.1 1282) scale(1 1.07)" text-anchor="middle">8</text>
<text transform="translate(650 1282) scale(1 1.07)">0</text>
<path transform="translate(633.3 1282)" d="M11.95 0V-21.6H8.3C7.2 -19.2 5.3 -17 2.3 -16.4V-12.6C4.6 -13.1 6.3 -14.1 7.9 -15.5V0Z"/>
<text transform="translate(781.7 1255.1) scale(1 1.07)" text-anchor="end">0</text>
<text transform="translate(788.2 1131.3) scale(1 1.07)" text-anchor="end">25</text>
<text transform="translate(788.2 1007.5) scale(1 1.07)" text-anchor="end">50</text>
<text transform="translate(788.2 883.6) scale(1 1.07)" text-anchor="end">75</text>
<text transform="translate(788.2 759.8) scale(1 1.07)" text-anchor="end">00</text>
<path transform="translate(738.1 759.8)" d="M11.95 0V-21.6H8.3C7.2 -19.2 5.3 -17 2.3 -16.4V-12.6C4.6 -13.1 6.3 -14.1 7.9 -15.5V0Z"/>
<text transform="translate(807.5 1282) scale(1 1.07)" text-anchor="middle">0</text>
<text transform="translate(915 1282) scale(1 1.07)" text-anchor="middle">2</text>
<text transform="translate(1022.5 1282) scale(1 1.07)" text-anchor="middle">4</text>
<text transform="translate(1130 1282) scale(1 1.07)" text-anchor="middle">6</text>
<text transform="translate(1237.5 1282) scale(1 1.07)" text-anchor="middle">8</text>
<text transform="translate(1347.5 1282) scale(1 1.07)">0</text>
<path transform="translate(1330.8 1282)" d="M11.95 0V-21.6H8.3C7.2 -19.2 5.3 -17 2.3 -16.4V-12.6C4.6 -13.1 6.3 -14.1 7.9 -15.5V0Z"/>
</g>
<g fill="#000" font-size="30">
<text x="3" y="28" font-size="29.8">A</text>
<text x="735.8" y="28" font-size="29.8">B</text>
<text x="3" y="711" font-size="29.8">C</text>
<text x="737" y="711" font-size="29.8">D</text>
<path transform="translate(178.8 17.7) scale(0.817)" d="M11.95 0V-21.6H8.3C7.2 -19.2 5.3 -17 2.3 -16.4V-12.6C4.6 -13.1 6.3 -14.1 7.9 -15.5V0Z"/>
<text x="191.9" y="30">/</text>
<text x="201.1" y="35.7" font-size="24.5">2</text>
<text x="222" y="30">MS,</text><text transform="translate(283.7 30) scale(1 1.07)">30</text><text x="325.4" y="30">mM Suc</text>
<text x="868.2" y="36" font-size="30.4">+</text><text transform="translate(894.4 36) scale(1 1.07)" font-size="30.4">2</text><text x="919.75" y="36" font-size="30.4">mM Pro</text>
<text x="178.2" y="710.5" font-size="30.4">+</text>
<path transform="translate(204.4 710.5) scale(1.013)" d="M11.95 0V-21.6H8.3C7.2 -19.2 5.3 -17 2.3 -16.4V-12.6C4.6 -13.1 6.3 -14.1 7.9 -15.5V0Z"/>
<text transform="translate(221.3 710.5) scale(1 1.07)" font-size="30.4">00</text><text x="263.55" y="710.5" font-size="30.4">mM NaCl</text>
<text x="868.5" y="711" font-size="30.4">+</text><text transform="translate(894.7 711) scale(1 1.07)" font-size="30.4">200</text><text x="953.85" y="711" font-size="30.4">mM NaCl</text>
<text transform="translate(25,450) rotate(-90)">germinated seeds / %</text>
<text transform="translate(24.3,1123) rotate(-90)">germinated seeds / %</text>
<text x="522" y="1326">time / days</text>
<text x="1201" y="1327.2">time / days</text>
</g>
<g stroke-width="3.2" fill="none">
<path d="M441 407.8H507" stroke="#46f500"/>
<path d="M441 441.9H507" stroke="#ee0000"/>
<path d="M441 476.8H507" stroke="#1438ff"/>
<path d="M440.8 511H449.8M453.5 511H462.5M465.5 511H482M485.6 511H494.3M498.3 511H507" stroke="#3366ff"/>
</g>
<path d="M467.1 407.8L473.6 400.1L480.1 407.8L473.6 415.5Z" fill="#46f500"/>
<path d="M467.1 441.9L473.6 434.2L480.1 441.9L473.6 449.6Z" fill="#ee0000"/>
<path d="M467.1 476.8L473.6 469.1L480.1 476.8L473.6 484.5Z" fill="#1438ff"/>
<path d="M467.1 511L473.6 503.3L480.1 511L473.6 518.7Z" fill="#3366ff"/>
<g font-size="30" fill="#000">
<text x="524.5" y="416.6">Col-0</text>
<text x="525" y="450.6" font-style="italic">p5cs1-4</text>
<text x="525" y="485" font-style="italic">p5cs2-1</text>
<text x="525" y="519.4" font-style="italic">p5cs2-2</text>
</g>
<g font-size="32" text-anchor="middle">
<text x="684" y="178.0" fill="#1438ff">*</text>
<text x="684" y="226.0" fill="#3366ff">*</text>
<text x="1377" y="164.0" fill="#1438ff">*</text>
<text x="1377" y="192.0" fill="#3366ff">*</text>
<text x="684" y="985.0" fill="#3366ff">*</text>
<text x="684" y="1022.0" fill="#1438ff">*</text>
<text x="1377" y="1094.0" fill="#3366ff">*</text>
<text x="1377" y="1184.0" fill="#1438ff">*</text>
</g>

</svg>
</body></html>
